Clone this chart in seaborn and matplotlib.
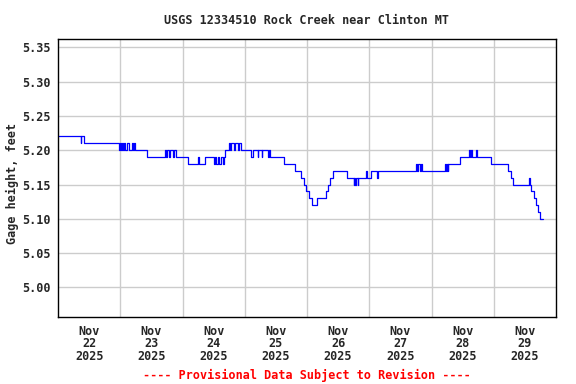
import matplotlib
matplotlib.use("Agg")
import matplotlib.pyplot as plt
import pandas as pd
import seaborn as sns

# change points of the gage record: hours after Nov 22 00:00, gage height (ft)
hours = [
    0.0, 8.8, 9.0, 10.0, 23.7, 24.0, 24.3, 24.6, 25.2, 25.5, 26.0, 26.5,
    27.2, 28.5, 28.8, 29.2, 29.5, 34.4, 41.3, 41.8, 42.2, 42.8, 43.3, 44.2,
    44.6, 45.5, 50.0, 54.0, 54.3, 56.7, 60.0, 60.4, 61.0, 61.5, 62.2, 62.7,
    63.5, 64.0, 64.5, 66.0, 66.4, 66.8, 67.8, 68.2, 69.5, 69.8, 70.5, 74.6,
    75.0, 77.0, 77.3, 78.5, 78.8, 80.8, 81.2, 81.9, 87.2, 91.5, 93.7, 95.0,
    95.8, 96.6, 97.8, 100.0, 103.5, 104.2, 104.9, 106.2, 111.4, 114.0, 114.3,
    114.6, 115.0, 115.5, 115.8, 118.7, 119.0, 120.6, 123.0, 123.3, 138.0,
    138.3, 138.7, 139.6, 139.9, 140.3, 149.1, 149.5, 149.8, 150.2, 150.5,
    155.0, 158.5, 158.8, 159.4, 159.7, 161.2, 161.5, 166.9, 173.5, 174.8,
    175.5, 181.6, 182.0, 182.3, 183.5, 184.4, 185.1, 185.7, 186.8,
]
gage = [
    5.22, 5.21, 5.22, 5.21, 5.20, 5.21, 5.20, 5.21, 5.20, 5.21, 5.20, 5.21,
    5.20, 5.21, 5.20, 5.21, 5.20, 5.19, 5.20, 5.19, 5.20, 5.19, 5.20, 5.19,
    5.20, 5.19, 5.18, 5.19, 5.18, 5.19, 5.18, 5.19, 5.18, 5.19, 5.18, 5.19,
    5.18, 5.19, 5.20, 5.21, 5.20, 5.21, 5.20, 5.21, 5.20, 5.21, 5.20, 5.19,
    5.20, 5.19, 5.20, 5.19, 5.20, 5.19, 5.20, 5.19, 5.18, 5.17, 5.16, 5.15,
    5.14, 5.13, 5.12, 5.13, 5.14, 5.15, 5.16, 5.17, 5.16, 5.15, 5.16,
    5.15, 5.16, 5.15, 5.16, 5.17, 5.16, 5.17, 5.16, 5.17, 5.18,
    5.17, 5.18, 5.17, 5.18, 5.17, 5.18, 5.17, 5.18, 5.17, 5.18,
    5.19, 5.20, 5.19, 5.20, 5.19, 5.20, 5.19, 5.18, 5.17, 5.16,
    5.15, 5.16, 5.15, 5.14, 5.13, 5.12, 5.11, 5.10, 5.10,
]
day_labels = ["Nov\n22\n2025", "Nov\n23\n2025", "Nov\n24\n2025", "Nov\n25\n2025",
              "Nov\n26\n2025", "Nov\n27\n2025", "Nov\n28\n2025", "Nov\n29\n2025"]
y_ticks = [5.00, 5.05, 5.10, 5.15, 5.20, 5.25, 5.30, 5.35]

start = pd.Timestamp("2025-11-22")
df = pd.DataFrame({
    "time": start + pd.to_timedelta(hours, unit="h"),
    "gage": gage,
})

sns.set_style("white")
font = {"family": "DejaVu Sans Mono", "weight": "bold", "size": 8.5}

fig = plt.figure(figsize=(5.76, 3.84), dpi=100)
ax = fig.add_axes([58 / 576, 1 - 317 / 384, 498 / 576, 278 / 384])

sns.lineplot(data=df, x="time", y="gage", ax=ax, color="#0000ff",
             linewidth=0.9, drawstyle="steps-post", estimator=None)

days = pd.date_range(start, periods=9, freq="D")
ax.set_xlim(days[0], days[-1])
ax.set_ylim(4.957, 5.362)
ax.set_xticks(days[:-1] + pd.Timedelta(hours=12))
ax.set_xticklabels(day_labels, linespacing=0.95, **font)
ax.set_xticks(days[1:-1], minor=True)
ax.set_yticks(y_ticks)
ax.set_yticklabels([f"{v:.2f}" for v in y_ticks], **font)
ax.tick_params(axis="both", which="both", length=0)
ax.tick_params(axis="x", pad=5.5)
ax.tick_params(axis="y", pad=5)

ax.grid(False)
ax.grid(True, axis="x", which="minor", color="#cccccc", linewidth=1)
ax.grid(True, axis="y", which="major", color="#cccccc", linewidth=1)
ax.set_axisbelow(True)
for s in ax.spines.values():
    s.set_color("black")
    s.set_linewidth(1)

ax.set_xlabel("")
ax.set_ylabel("")
fig.text(12 / 576, 1 - 183 / 384, "Gage height, feet", rotation=90,
         ha="center", va="center", **font)
fig.text(307 / 576, 1 - 20 / 384, "USGS 12334510 Rock Creek near Clinton MT",
         ha="center", va="center", **font)
fig.text(307 / 576, 1 - 375 / 384, "---- Provisional Data Subject to Revision ----",
         ha="center", va="center", color="red", **font)

fig.savefig("out.png", dpi=100)
